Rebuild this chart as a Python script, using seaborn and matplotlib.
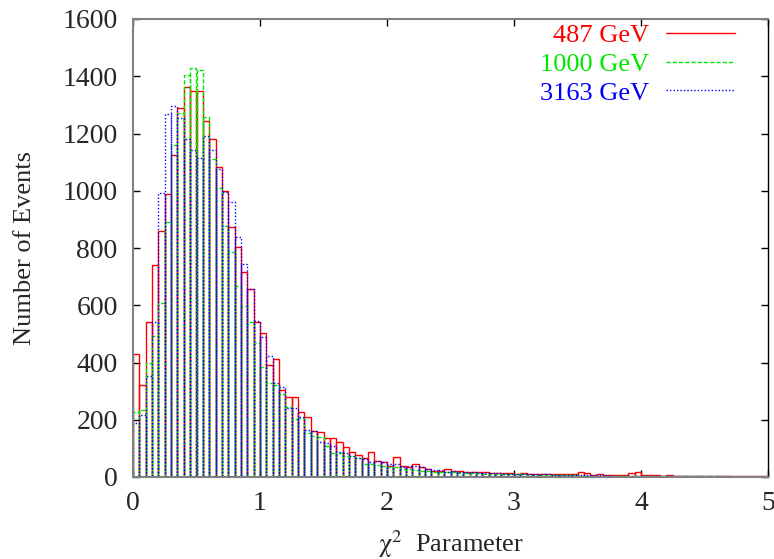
import numpy as np
import pandas as pd
import matplotlib
matplotlib.use("Agg")
import matplotlib.pyplot as plt
from matplotlib.lines import Line2D
import seaborn as sns

# Histogram binning of the chi^2 parameter
bin_lo, bin_hi, n_bins = 0.0, 5.0, 100

# Event counts per bin for each mass point
counts_487 = [430, 320, 543, 741, 861, 989, 1126, 1290, 1364, 1348,
              1348, 1244, 1182, 1082, 999, 874, 805, 715, 658, 543,
              504, 391, 411, 304, 278, 278, 228, 208, 162, 158,
              135, 135, 121, 106, 88, 77, 65, 86, 56, 51,
              40, 71, 38, 36, 45, 36, 28, 22, 22, 27,
              22, 20, 18, 19, 16, 17, 14, 15, 13, 14,
              12, 13, 11, 12, 10, 11, 10, 9, 10, 9,
              16, 15, 8, 9, 8, 7, 8, 7, 15, 16,
              6, 7, 6, 5, 6, 5, 5, 4, 5, 4,
              4, 3, 4, 3, 3, 2, 3, 2, 2, 2]
counts_1000 = [226, 234, 397, 493, 609, 890, 1160, 1270, 1404, 1428,
               1422, 1257, 1112, 1008, 877, 787, 667, 597, 540, 469,
               385, 330, 320, 290, 243, 203, 206, 153, 143, 140,
               110, 85, 85, 72, 72, 65, 45, 45, 42, 38,
               36, 34, 29, 27, 24, 22, 21, 19, 18, 17,
               16, 15, 14, 14, 13, 12, 12, 11, 10, 10,
               9, 9, 8, 8, 7, 7, 7, 6, 6, 6,
               5, 5, 5, 5, 4, 4, 4, 4, 3, 4,
               3, 3, 3, 3, 2, 3, 2, 2, 2, 2,
               2, 1, 2, 1, 1, 1, 1, 1, 1, 1]
counts_3163 = [187, 217, 353, 540, 991, 1267, 1297, 1255, 1180, 1142,
               1116, 1191, 1142, 1075, 997, 962, 840, 744, 658, 546,
               488, 424, 330, 313, 242, 242, 211, 164, 162, 123,
               120, 108, 88, 83, 75, 65, 62, 54, 57, 51,
               45, 47, 36, 38, 38, 36, 27, 24, 24, 19,
               20, 18, 17, 16, 15, 15, 14, 13, 12, 12,
               11, 11, 10, 10, 9, 9, 8, 8, 8, 7,
               7, 7, 6, 6, 6, 5, 5, 5, 5, 4,
               4, 4, 4, 3, 3, 3, 3, 3, 2, 2,
               2, 2, 2, 2, 1, 1, 1, 1, 1, 1]
series_labels = ["487 GeV", "1000 GeV", "3163 GeV"]
x_ticks = [0, 1, 2, 3, 4, 5]
y_ticks = [0, 200, 400, 600, 800, 1000, 1200, 1400, 1600]

sns.set_theme(style="ticks")
plt.rcParams["font.family"] = ["Liberation Serif", "DejaVu Serif"]
plt.rcParams["mathtext.fontset"] = "stix"

edges = np.linspace(bin_lo, bin_hi, n_bins + 1)
centers = 0.5 * (edges[:-1] + edges[1:])

fig = plt.figure(figsize=(7.74, 5.59), dpi=100)
ax = fig.add_axes([133 / 774, 1 - 477 / 559, (768 - 133) / 774, (477 - 19) / 559])

styles = [("#ff0000", "-"),
          ("#00e800", (0, (3, 1.5))),
          ("#0000ff", (0, (1, 1.5)))]

handles = []
for counts, label, (col, ls) in zip([counts_487, counts_1000, counts_3163],
                                    series_labels, styles):
    df = pd.DataFrame({"chi2": centers, "events": counts})
    sns.histplot(data=df, x="chi2", weights="events", bins=n_bins,
                 binrange=(bin_lo, bin_hi),
                 element="bars", fill=False, color=col, edgecolor=col,
                 linestyle=ls, linewidth=1.0, ax=ax)
    handles.append(Line2D([], [], color=col, linestyle=ls, linewidth=1.0))

ax.set_xlim(bin_lo, bin_hi)
ax.set_ylim(y_ticks[0], y_ticks[-1])
ax.set_xticks(x_ticks)
ax.set_yticks(y_ticks)
ax.set_xticklabels([str(v) for v in x_ticks])
ax.set_yticklabels([str(v) for v in y_ticks])

ax.tick_params(axis="both", which="major", direction="in", length=5, width=1.0,
               color="black", labelsize=20, top=True, right=True)
ax.tick_params(axis="x", pad=10)
ax.tick_params(axis="y", pad=11)
for side in ["left", "top", "bottom"]:
    ax.spines[side].set_color("#808080")
    ax.spines[side].set_linewidth(1.5)
ax.spines["right"].set_color("black")
ax.spines["right"].set_linewidth(1.0)

ax.set_xlabel(r"$\mathrm{\chi}^{2}$  Parameter", fontsize=19, labelpad=9)
ax.set_ylabel("Number of Events", fontsize=19, labelpad=19)

leg = ax.legend(handles, series_labels, loc="upper right", frameon=False,
                markerfirst=False, fontsize=19, handlelength=2.6,
                handletextpad=0.65, labelspacing=0.2,
                labelcolor=[s[0] for s in styles],
                borderaxespad=0.0, borderpad=0.0,
                bbox_to_anchor=(0.948, 0.99))

fig.savefig("out.png", dpi=100)
